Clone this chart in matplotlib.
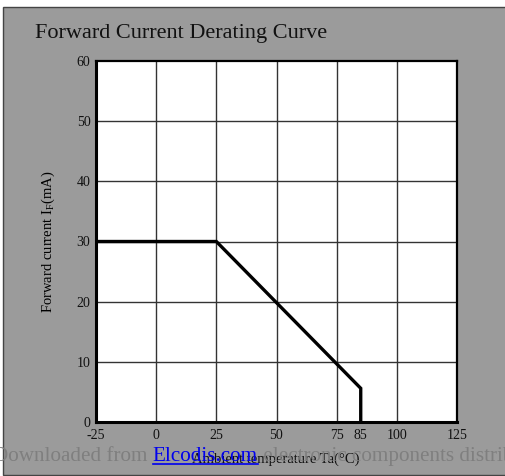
import numpy as np
import matplotlib.pyplot as plt
from matplotlib.patches import Rectangle
from matplotlib.lines import Line2D

plt.rcParams['font.family'] = ['Liberation Serif', 'DejaVu Serif']
plt.rcParams['mathtext.fontset'] = 'custom'
plt.rcParams['mathtext.rm'] = 'Liberation Serif'
plt.rcParams['axes.unicode_minus'] = False

## data
temp = [-25, 25, 85, 85]        # ambient temperature, C
current = [30, 30, 5.6, 0]      # forward current, mA

xticks = [-25, 0, 25, 50, 75, 85, 100, 125]
xgrid = [0, 25, 50, 75, 100]
yticks = [0, 10, 20, 30, 40, 50, 60]

W, H = 506, 476
fig = plt.figure(figsize=(W/100, H/100), dpi=100)
fig.patch.set_facecolor('white')

# grey panel behind everything
panel = Rectangle((3/W, 1/H), (W-2)/W, (H-8)/H, transform=fig.transFigure,
                  facecolor='#9b9b9b', edgecolor='#444444', linewidth=1, zorder=-5)
fig.add_artist(panel)

ax = fig.add_axes([96/W, 1-422/H, 361/W, 361/H])
ax.set_zorder(1)
ax.set_facecolor('white')

for x in xgrid:
    ax.axvline(x, color='#333333', linewidth=1, zorder=1)
for y in yticks[1:-1]:
    ax.axhline(y, color='#333333', linewidth=1, zorder=1)

ax.plot(temp, current, color='black', linewidth=2.4, solid_joinstyle='miter', zorder=3)

ax.set_xlim(-25, 125)
ax.set_ylim(0, 60)
ax.set_xticks(xticks)
ax.set_yticks(yticks)
ax.tick_params(length=0, labelsize=10, colors='#111111')
ax.tick_params(axis='x', pad=5)
ax.tick_params(axis='y', pad=4)
for s in ax.spines.values():
    s.set_linewidth(1.6)
    s.set_color('black')
ax.spines['left'].set_linewidth(2.2)
ax.spines['bottom'].set_linewidth(2.2)

ax.set_ylabel('Forward current I$_{\\rm F}$(mA)', fontsize=10.5, labelpad=14)

fig.text(35/W, 1-38/H, 'Forward Current Derating Curve', fontsize=16, va='baseline', color='#111111')

# axis title at the bottom, partly covered by the watermark
fig.text(276/W, 1-463/H, 'Ambient temperature Ta(\u00b0C)', fontsize=10.5, ha='center',
         va='baseline', color='#111111', zorder=2)

# watermark line
r = fig.canvas.get_renderer()
base = 1-461/H
t1 = fig.text(-7/W, base, 'Downloaded from ', fontsize=15.2, color='#7f7f7f', va='baseline', zorder=3)
b1 = t1.get_window_extent(r)
t2 = fig.text(b1.x1/W, base, 'Elcodis.com', fontsize=15.2, color='#0000ee', va='baseline', zorder=3)
b2 = t2.get_window_extent(r)
fig.add_artist(Line2D([b2.x0/W, b2.x1/W], [1-464/H, 1-464/H], transform=fig.transFigure,
                      color='#0000ee', linewidth=1.2, zorder=3))
fig.text(b2.x1/W, base, ' electronic components distributor', fontsize=15.2, color='#7f7f7f',
         va='baseline', zorder=3)

fig.savefig('out.png', dpi=100)
